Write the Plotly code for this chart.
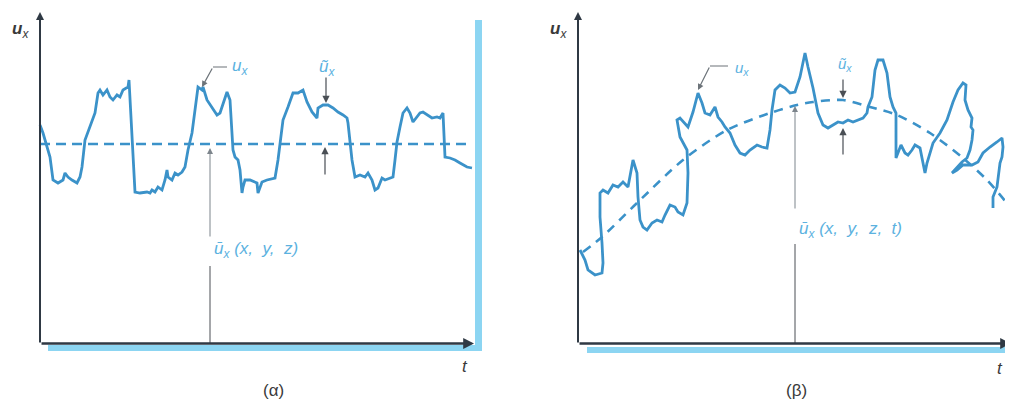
import plotly.graph_objects as go

# ---------------- Panel (α): fluctuating velocity about a steady mean ----------------
t_a = [0, 3, 10, 13, 18, 23, 25, 28, 32, 37, 40, 42, 45, 50, 55, 58, 60, 63, 67, 70,
       73, 77, 80, 83, 88, 89, 95, 100, 107, 110, 112, 115, 118, 122, 125, 127, 128, 132, 135, 138,
       142, 145, 148, 152, 155, 157, 158, 162, 163, 167, 172, 177, 180, 183, 187, 190, 192, 193, 195, 198,
       200, 202, 203, 205, 210, 217, 218, 222, 227, 235, 238, 240, 243, 248, 253, 258, 263, 267, 272, 277,
       278, 283, 288, 293, 298, 303, 307, 308, 310, 312, 315, 320, 325, 328, 332, 335, 338, 342, 345, 350,
       353, 355, 357, 360, 363, 367, 370, 373, 377, 380, 383, 387, 392, 397, 400, 403, 404, 405, 410, 415,
       420, 427, 432]
u_a = [219, 211, 187, 164, 161, 164, 171, 167, 164, 161, 167, 177, 204, 217, 231, 251, 254, 249, 254, 247,
       244, 249, 247, 254, 257, 264, 152, 151, 152, 151, 154, 152, 157, 154, 164, 174, 167, 164, 171, 169,
       172, 177, 194, 211, 234, 254, 257, 254, 257, 244, 237, 229, 231, 241, 252, 244, 217, 194, 187, 184,
       174, 151, 157, 164, 164, 161, 151, 162, 164, 166, 184, 201, 224, 237, 251, 251, 254, 242, 232, 226,
       236, 239, 239, 236, 232, 229, 226, 221, 204, 184, 167, 169, 167, 171, 164, 154, 156, 166, 164, 166,
       167, 184, 202, 217, 231, 236, 231, 222, 227, 231, 232, 229, 226, 227, 226, 231, 204, 187, 186, 184,
       181, 177, 176]
mean_a_t = [0, 432]
mean_a_u = [200, 200]

# ---------------- Panel (β): fluctuating velocity about a time-varying mean ----------------
t_b = [2, 7, 10, 17, 24, 25, 24, 22, 22, 25, 30, 35, 40, 45, 50, 54, 55, 59, 60, 62,
       65, 69, 74, 79, 84, 87, 92, 97, 100, 105, 109, 110, 109, 102, 99, 102, 107, 110, 115, 120,
       124, 127, 132, 137, 140, 144, 147, 152, 157, 162, 167, 172, 179, 184, 189, 192, 194, 197, 202, 207,
       212, 217, 222, 227, 230, 235, 240, 245, 250, 255, 260, 265, 270, 275, 280, 285, 289, 290, 294, 297,
       300, 305, 309, 312, 315, 318, 318, 320, 323, 327, 330, 334, 337, 342, 345, 347, 349, 355, 362, 369,
       375, 380, 385, 388, 387, 390, 394, 393, 395, 394, 392, 389, 384, 379, 374, 379, 385, 394, 400, 405,
       412, 419, 424, 425, 424, 422, 420, 419, 415, 415]
u_b = [94, 84, 74, 69, 71, 81, 101, 127, 151, 154, 151, 159, 157, 162, 157, 181, 184, 171, 147, 124,
       117, 114, 121, 124, 122, 129, 139, 137, 132, 129, 141, 171, 194, 207, 224, 226, 221, 217, 232, 251,
       241, 231, 229, 237, 227, 222, 217, 211, 199, 191, 189, 194, 199, 197, 196, 214, 234, 254, 259, 256,
       251, 252, 267, 291, 277, 256, 231, 219, 216, 219, 222, 221, 224, 222, 224, 226, 231, 237, 247, 274,
       284, 284, 271, 247, 237, 231, 186, 191, 199, 191, 189, 194, 199, 196, 181, 171, 181, 201, 211, 224,
       242, 254, 261, 259, 244, 234, 226, 217, 214, 204, 194, 186, 182, 177, 171, 174, 179, 179, 182, 191,
       197, 202, 206, 197, 187, 181, 167, 157, 147, 136]
mean_b_t = [5, 24, 59, 105, 149, 192, 219, 235, 265, 292, 319, 352, 385, 409, 432]
mean_b_u = [92, 107, 141, 184, 214, 231, 239, 242, 244, 237, 229, 211, 186, 164, 137]

# ---------------- styles ----------------
CURVE = '#3b92c9'
LIGHT = '#8cd5f2'
AXIS = '#2f3944'
LABEL = '#5cb2df'
POINTER = '#4a4f55'
FONT = 'Liberation Sans, Arial, sans-serif'

# the page adds an 8px body margin, so the figure is 8px smaller each way
W, H = 1005, 398
SPLIT = 498.5  # figure-pixel x where the two panels meet

fig = go.Figure()
fig.add_trace(go.Scatter(x=mean_a_t, y=mean_a_u, xaxis='x', yaxis='y', mode='lines',
                         line=dict(color=CURVE, width=2.6, dash='10px,6px')))
fig.add_trace(go.Scatter(x=t_a, y=u_a, xaxis='x', yaxis='y', mode='lines',
                         line=dict(color=CURVE, width=2.8)))
fig.add_trace(go.Scatter(x=mean_b_t, y=mean_b_u, xaxis='x2', yaxis='y2', mode='lines',
                         line=dict(color=CURVE, width=2.6, dash='9px,7px', shape='spline', smoothing=0.8)))
fig.add_trace(go.Scatter(x=t_b, y=u_b, xaxis='x2', yaxis='y2', mode='lines',
                         line=dict(color=CURVE, width=2.8)))

shapes = []
annotations = []

def rect(xr, yr, x0, x1, y0, y1, color):
    shapes.append(dict(type='rect', xref=xr, yref=yr, x0=x0, x1=x1, y0=y0, y1=y1,
                       fillcolor=color, line=dict(width=0), layer='below'))

def seg(xr, yr, x0, y0, x1, y1, color, width):
    shapes.append(dict(type='line', xref=xr, yref=yr, x0=x0, y0=y0, x1=x1, y1=y1,
                       line=dict(color=color, width=width)))

def arrow(xr, yr, x_tail, y_tail, x_tip, y_tip, color, width, head=2, size=1.0):
    annotations.append(dict(xref=xr, yref=yr, axref=xr, ayref=yr, x=x_tip, y=y_tip,
                            ax=x_tail, ay=y_tail, text='', showarrow=True, arrowhead=head,
                            arrowsize=size, arrowwidth=width, arrowcolor=color, standoff=0,
                            startstandoff=0))

def text(xr, yr, x, y, s, size, color, xanchor='center'):
    annotations.append(dict(xref=xr, yref=yr, x=x, y=y, text=s, showarrow=False,
                            font=dict(family=FONT, size=size, color=color),
                            xanchor=xanchor, yanchor='middle'))

# light-blue printing bands
rect('x', 'y', 435, 442, -7, 324, LIGHT)
rect('x', 'y', 8, 442, -1, -7, LIGHT)
rect('x2', 'y2', 9, 435, -3, -9, LIGHT)
rect('x2', 'y2', 432, 436, -9, 324, LIGHT)

# axes (α)
arrow('x', 'y', 0, 0, 0, 332, AXIS, 2, head=2, size=0.8)
arrow('x', 'y', 0, 0.5, 434, 0.5, AXIS, 2.4, head=2, size=0.9)
# axes (β)
arrow('x2', 'y2', 0, 0, 0, 332, AXIS, 2, head=2, size=0.8)
arrow('x2', 'y2', 0, 0.5, 433, 0.5, AXIS, 2.4, head=2, size=0.9)

# (α) annotations
seg('x', 'y', 170, 0, 170, 78, POINTER, 1)
arrow('x', 'y', 170, 106, 170, 196, '#7d858c', 1, head=2, size=1.2)
text('x', 'y', 172, 94, '<i>ū</i><sub><i>x</i></sub><i> (x,  y,  z)</i>', 17, LABEL, 'left')
arrow('x', 'y', 286, 268, 286, 241, POINTER, 1.2, head=2, size=1.2)
arrow('x', 'y', 285, 168, 285, 197, POINTER, 1.2, head=2, size=1.2)
text('x', 'y', 287, 276, '<i>ũ</i><sub><i>x</i></sub>', 17, LABEL)
seg('x', 'y', 173, 277, 187, 277, '#6c7379', 1.2)
arrow('x', 'y', 173, 277, 162, 257, '#6c7379', 1.2, head=2, size=1.0)
text('x', 'y', 190, 277, '<i>u</i><sub><i>x</i></sub>', 17, LABEL, 'left')
text('x', 'y', -20, 314, '<b><i>u</i></b><sub><i>x</i></sub>', 17, '#3a3a3a')
text('x', 'y', 425, -22, '<i>t</i>', 17, '#3a3a3a')

# (β) annotations
seg('x2', 'y2', 217, 0, 217, 100, POINTER, 1)
arrow('x2', 'y2', 217, 134, 217, 238, '#7d858c', 1, head=2, size=1.2)
text('x2', 'y2', 219, 114, '<i>ū</i><sub><i>x</i></sub><i> (x,  y,  z,  t)</i>', 17, LABEL, 'left')
arrow('x2', 'y2', 265, 266, 265, 246, POINTER, 1.2, head=2, size=1.2)
arrow('x2', 'y2', 265, 188, 265, 216, POINTER, 1.2, head=2, size=1.2)
text('x2', 'y2', 267, 280, '<i>ũ</i><sub><i>x</i></sub>', 15, LABEL)
seg('x2', 'y2', 132, 278, 150, 278, '#6c7379', 1.2)
arrow('x2', 'y2', 132, 278, 120, 254, '#6c7379', 1.2, head=2, size=1.0)
text('x2', 'y2', 155, 276, '<i>u</i><sub><i>x</i></sub>', 15, LABEL, 'left')
text('x2', 'y2', -20, 314, '<b><i>u</i></b><sub><i>x</i></sub>', 17, '#3a3a3a')
text('x2', 'y2', 422, -24, '<i>t</i>', 17, '#3a3a3a')

# panel captions (page pixels minus the 8px body margin)
text('paper', 'paper', (273 - 8) / W, 1 - (390 - 8) / H, '(α)', 17, '#3a3a3a')
text('paper', 'paper', (796 - 8) / W, 1 - (390 - 8) / H, '(β)', 17, '#3a3a3a')

fig.update_layout(
    width=W, height=H,
    margin=dict(l=0, r=0, t=0, b=0),
    paper_bgcolor='white', plot_bgcolor='white',
    showlegend=False,
    xaxis=dict(domain=[0, SPLIT / W], range=[-32, 466.5], visible=False, fixedrange=True),
    yaxis=dict(domain=[0, 1], range=[-62, 336], visible=False, fixedrange=True),
    xaxis2=dict(domain=[SPLIT / W, 1], range=[-71.5, 435], visible=False, fixedrange=True),
    yaxis2=dict(domain=[0, 1], range=[-62, 336], visible=False, anchor='x2', fixedrange=True),
    shapes=shapes,
    annotations=annotations,
)

fig.write_html("out.html")
